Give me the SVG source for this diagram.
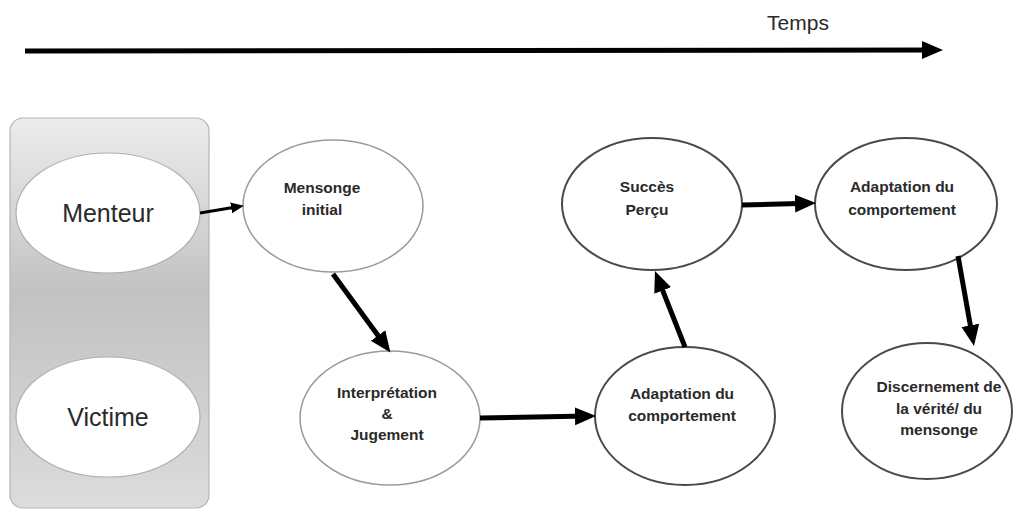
<svg xmlns="http://www.w3.org/2000/svg" width="1015" height="511" viewBox="0 0 1015 511">
<defs>
<linearGradient id="panelGrad" x1="0" y1="0" x2="0" y2="1">
<stop offset="0" stop-color="#ececec"/>
<stop offset="0.45" stop-color="#c2c2c2"/>
<stop offset="1" stop-color="#dcdcdc"/>
</linearGradient>
<marker id="head" markerUnits="userSpaceOnUse" markerWidth="22" markerHeight="20" refX="13" refY="10" orient="auto">
<path d="M0,1 L21,10 L0,19 z" fill="#000"/>
</marker>
<marker id="headSmall" markerUnits="userSpaceOnUse" markerWidth="14" markerHeight="12" refX="8" refY="6" orient="auto">
<path d="M0,0.5 L13,6 L0,11.5 z" fill="#000"/>
</marker>
</defs>
<style>
.big{font-family:"Liberation Sans",Arial,sans-serif;font-size:25px;fill:#2a2a2a;text-anchor:middle}
.lbl{font-family:"Liberation Sans",Arial,sans-serif;font-size:15.5px;font-weight:bold;fill:#2a2a2a;text-anchor:middle}
.soft{fill:#fff;stroke:#9a9a9a;stroke-width:1.5}
.dark{fill:#fff;stroke:#4a4a4a;stroke-width:2}
.side{fill:#fff;stroke:#b0b0b0;stroke-width:1.2}
.conn{stroke:#000;stroke-width:5;fill:none;marker-end:url(#head)}
</style>
<g id="timeline">
<text x="798" y="30" style="font-family:'Liberation Sans',Arial,sans-serif;font-size:21px;fill:#2a2a2a;text-anchor:middle">Temps</text>
<line x1="25" y1="51" x2="935" y2="50" class="conn"/>
</g>
<g id="panel">
<rect x="10" y="118" width="199" height="390" rx="13" ry="13" fill="url(#panelGrad)" stroke="#b5b5b5" stroke-width="1.2"/>
</g>
<g id="menteur">
<ellipse cx="108" cy="213" rx="92" ry="60" class="side"/>
<text x="108" y="222" class="big">Menteur</text>
</g>
<g id="victime">
<ellipse cx="108" cy="417" rx="92" ry="60" class="side"/>
<text x="108" y="426" class="big">Victime</text>
</g>
<g id="mensonge">
<ellipse cx="333" cy="206" rx="90" ry="66" class="soft"/>
<text x="322" y="193" class="lbl">Mensonge</text>
<text x="322" y="215" class="lbl">initial</text>
</g>
<g id="interpretation">
<ellipse cx="390" cy="418" rx="90" ry="67" class="soft"/>
<text x="387" y="398" class="lbl">Interprétation</text>
<text x="387" y="419" class="lbl">&amp;</text>
<text x="387" y="440" class="lbl">Jugement</text>
</g>
<g id="adaptation1">
<ellipse cx="685" cy="416" rx="90" ry="69" class="dark"/>
<text x="682" y="399" class="lbl">Adaptation du</text>
<text x="682" y="421" class="lbl">comportement</text>
</g>
<g id="succes">
<ellipse cx="652" cy="204" rx="90" ry="66" class="dark"/>
<text x="647" y="192" class="lbl">Succès</text>
<text x="647" y="215" class="lbl">Perçu</text>
</g>
<g id="adaptation2">
<ellipse cx="906" cy="204" rx="91" ry="66" class="dark"/>
<text x="902" y="192" class="lbl">Adaptation du</text>
<text x="902" y="215" class="lbl">comportement</text>
</g>
<g id="discernement">
<ellipse cx="927" cy="411" rx="85" ry="68" class="dark"/>
<text x="939" y="392" class="lbl">Discernement de</text>
<text x="939" y="414" class="lbl">la vérité/ du</text>
<text x="939" y="435" class="lbl">mensonge</text>
</g>
<g id="connectors">
<line x1="200" y1="213" x2="239" y2="206.6" stroke="#000" stroke-width="3" marker-end="url(#headSmall)"/>
<line x1="333" y1="274" x2="385.7" y2="346" class="conn"/>
<line x1="480" y1="418" x2="588" y2="416.1" class="conn"/>
<line x1="685" y1="347" x2="657.9" y2="278.4" class="conn"/>
<line x1="742" y1="205" x2="808" y2="203.2" class="conn"/>
<line x1="958" y1="256" x2="972.6" y2="338.1" class="conn"/>
</g>
</svg>
